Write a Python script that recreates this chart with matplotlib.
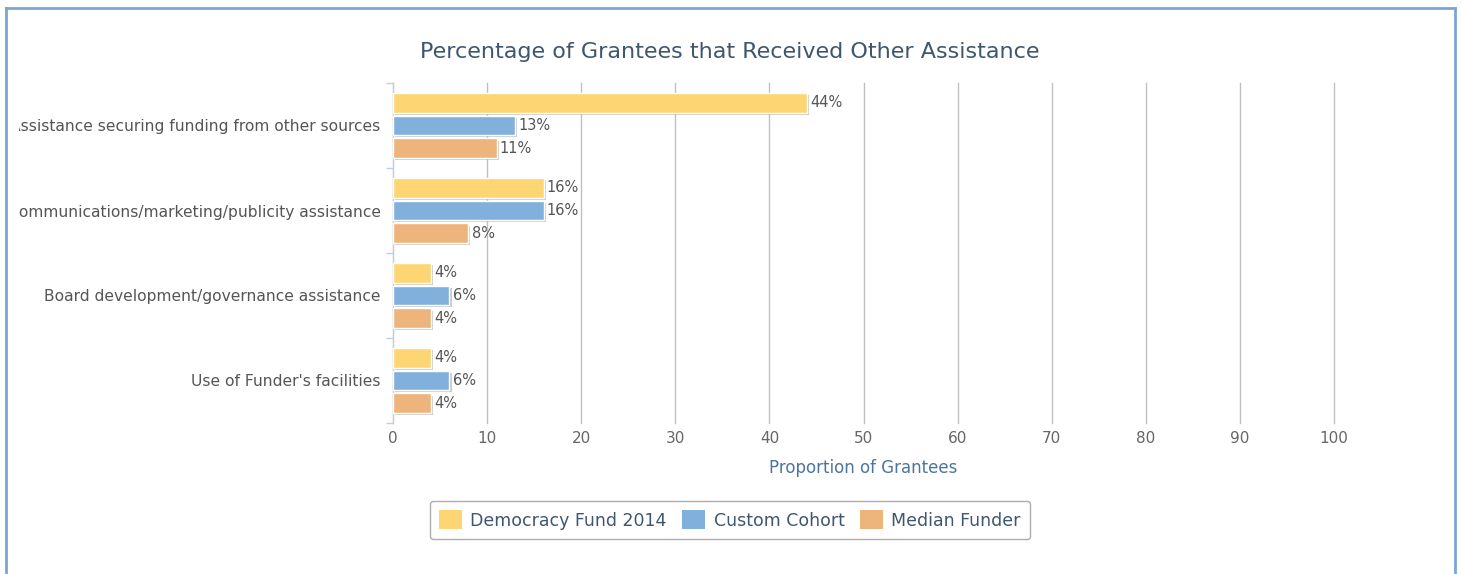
import matplotlib
matplotlib.use("Agg")
import matplotlib.pyplot as plt
import matplotlib.patheffects as pe
from matplotlib.patches import Patch, Rectangle
import numpy as np

# Data
categories = ["Assistance securing funding from other sources",
              "Communications/marketing/publicity assistance",
              "Board development/governance assistance",
              "Use of Funder's facilities"]
series_names = ["Democracy Fund 2014", "Custom Cohort", "Median Funder"]
democracy_fund = [44, 16, 4, 4]
custom_cohort = [13, 16, 6, 6]
median_funder = [11, 8, 4, 4]
x_ticks = [0, 10, 20, 30, 40, 50, 60, 70, 80, 90, 100]

colors = ["#FDD573", "#82B0DC", "#EDB57C"]
title_color = "#3E576F"
label_color = "#555555"

W, H = 1462, 574
fig = plt.figure(figsize=(W / 100, H / 100), dpi=100)

def fx(px):
    return px / W

def fy(py):
    return 1 - py / H

# plot area in pixels: left 393, right 1334, top 83, bottom 423
ax = fig.add_axes([fx(393), fy(423), fx(1334) - fx(393), fy(83) - fy(423)])

n = len(categories)
y = np.arange(n)
offset = 0.265
height = 0.225
shadow = [pe.SimplePatchShadow(offset=(1.5, -1.5), shadow_rgbFace="#999999", alpha=0.5), pe.Normal()]

for i, vals in enumerate([democracy_fund, custom_cohort, median_funder]):
    pos = y + (i - 1) * offset
    bars = ax.barh(pos, vals, height=height, color=colors[i], edgecolor="white",
                   linewidth=1, zorder=3, path_effects=shadow)
    for b, v in zip(bars, vals):
        ax.text(v + 0.35, b.get_y() + b.get_height() / 2, f"{v}%", va="center", ha="left",
                fontsize=10.5, color=label_color, zorder=4)

ax.set_xlim(0, 100)
ax.set_ylim(n - 0.5, -0.5)
ax.set_xticks(x_ticks)
ax.set_xticklabels([str(t) for t in x_ticks], fontsize=11, color="#666666")
ax.set_yticks(y)
ax.set_yticklabels(categories, fontsize=11.2, color=label_color)
ax.set_yticks(np.arange(n + 1) - 0.5, minor=True)
ax.tick_params(axis="y", which="major", length=0, pad=9)
ax.tick_params(axis="y", which="minor", length=5, color="#C0D0E0", width=1)
ax.tick_params(axis="x", length=0, pad=6)
ax.grid(axis="x", color="#C0C0C0", linewidth=1, zorder=0)
for gl in ax.get_xgridlines():
    gl.set_clip_on(False)
for s in ["top", "right", "bottom"]:
    ax.spines[s].set_visible(False)
ax.spines["left"].set_color("#C0D0E0")
ax.set_xlabel("Proportion of Grantees", fontsize=12, color="#4D759E", labelpad=9)

fig.text(fx(730), fy(52), "Percentage of Grantees that Received Other Assistance",
         ha="center", va="center", fontsize=16, color=title_color)

handles = [Patch(facecolor=c, edgecolor="none") for c in colors]
leg = fig.legend(handles, series_names, loc="center", bbox_to_anchor=(fx(730), fy(520)),
                 ncol=3, fontsize=12.5, frameon=True, fancybox=True, edgecolor="#999999",
                 handlelength=1.3, handleheight=1.3, handletextpad=0.5, columnspacing=0.9,
                 borderpad=0.55)
for t in leg.get_texts():
    t.set_color(title_color)
leg.get_frame().set_linewidth(1)

# white strip clipping long labels, then the outer blue border
fig.add_artist(Rectangle((0, 0), fx(19), 1, transform=fig.transFigure,
                         facecolor="white", edgecolor="none", zorder=10))
border = "#7AA6D6"
fig.add_artist(plt.Line2D([fx(6), fx(6)], [0, fy(8)], transform=fig.transFigure, color=border, lw=2, zorder=11))
fig.add_artist(plt.Line2D([fx(6), fx(1455)], [fy(8), fy(8)], transform=fig.transFigure, color=border, lw=2, zorder=11))
fig.add_artist(plt.Line2D([fx(1455), fx(1455)], [0, fy(8)], transform=fig.transFigure, color=border, lw=2, zorder=11))

fig.savefig("out.png", dpi=100)
